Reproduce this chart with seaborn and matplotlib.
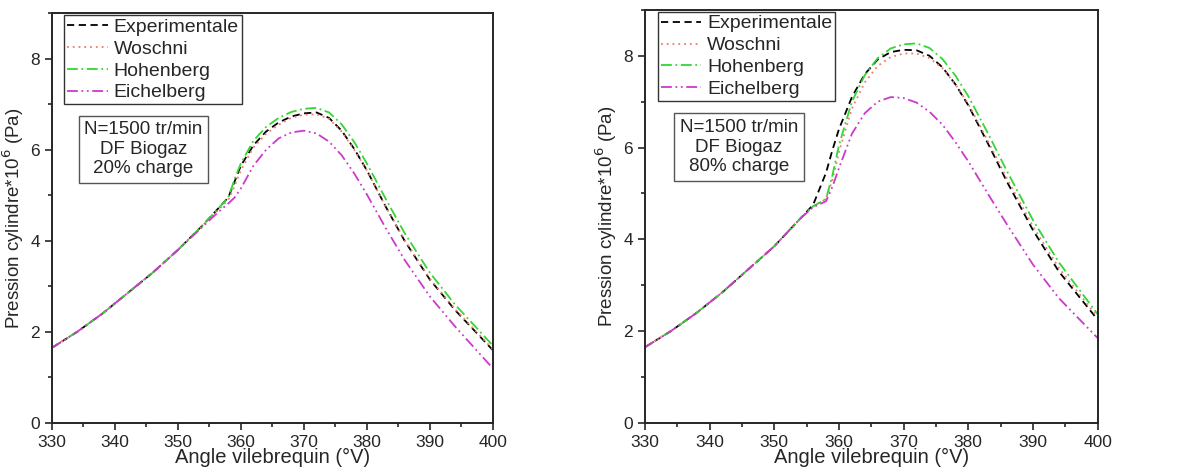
import numpy as np
import pandas as pd
import matplotlib
matplotlib.use("Agg")
import matplotlib.pyplot as plt
import seaborn as sns
from matplotlib.ticker import MultipleLocator

sns.set_style("ticks")
plt.rcParams["font.family"] = ["Liberation Sans", "DejaVu Sans"]

# crank angle (°V)
angle = [330, 334, 338, 342, 346, 350, 354, 356, 358, 359, 360, 362, 364, 366,
         368, 370, 372, 374, 376, 378, 380, 383, 386, 390, 394, 400]

# 20% charge
exp_20 = [1.65, 2.0, 2.4, 2.85, 3.3, 3.8, 4.35, 4.65, 4.95, 5.3, 5.65, 6.1, 6.4, 6.6,
          6.73, 6.8, 6.82, 6.7, 6.42, 6.02, 5.55, 4.75, 4.0, 3.15, 2.48, 1.6]
wos_20 = [1.65, 2.0, 2.4, 2.85, 3.3, 3.8, 4.35, 4.62, 4.9, 5.2, 5.55, 6.05, 6.35, 6.55,
          6.7, 6.77, 6.78, 6.68, 6.4, 6.0, 5.55, 4.75, 4.02, 3.17, 2.5, 1.62]
hoh_20 = [1.65, 2.0, 2.4, 2.85, 3.3, 3.8, 4.35, 4.65, 4.95, 5.35, 5.7, 6.2, 6.5, 6.7,
          6.83, 6.9, 6.92, 6.82, 6.56, 6.17, 5.7, 4.92, 4.17, 3.3, 2.6, 1.7]
eic_20 = [1.65, 2.0, 2.4, 2.85, 3.3, 3.8, 4.32, 4.58, 4.82, 4.95, 5.15, 5.65, 6.0, 6.25,
          6.38, 6.42, 6.36, 6.18, 5.88, 5.48, 5.02, 4.28, 3.58, 2.78, 2.12, 1.2]

# 80% charge
exp_80 = [1.65, 2.0, 2.4, 2.85, 3.35, 3.85, 4.45, 4.75, 5.45, 5.95, 6.4, 7.1, 7.6, 7.92,
          8.08, 8.13, 8.12, 8.0, 7.75, 7.38, 6.92, 6.1, 5.25, 4.2, 3.3, 2.25]
wos_80 = [1.65, 2.0, 2.4, 2.85, 3.35, 3.85, 4.45, 4.72, 4.88, 5.3, 5.9, 6.85, 7.42, 7.78,
          7.97, 8.05, 8.05, 7.95, 7.73, 7.38, 6.95, 6.15, 5.32, 4.28, 3.38, 2.3]
hoh_80 = [1.65, 2.0, 2.4, 2.85, 3.35, 3.85, 4.45, 4.72, 4.88, 5.4, 6.05, 7.0, 7.58, 7.95,
          8.16, 8.25, 8.27, 8.17, 7.93, 7.57, 7.12, 6.32, 5.48, 4.42, 3.5, 2.37]
eic_80 = [1.65, 2.0, 2.4, 2.85, 3.35, 3.85, 4.45, 4.7, 4.83, 5.15, 5.55, 6.3, 6.75, 7.0,
          7.1, 7.08, 6.98, 6.78, 6.5, 6.12, 5.7, 5.0, 4.32, 3.45, 2.72, 1.85]

models = ["Experimentale", "Woschni", "Hohenberg", "Eichelberg"]
colors = {"Experimentale": "#000000", "Woschni": "#EE7A70",
          "Hohenberg": "#33D633", "Eichelberg": "#CC3ACC"}
dashes = {"Experimentale": (4, 2.5), "Woschni": (1, 2.2),
          "Hohenberg": (6, 2, 1, 2), "Eichelberg": (6, 2, 1, 2, 1, 2)}

panels = [
    ("20% charge", [exp_20, wos_20, hoh_20, eic_20]),
    ("80% charge", [exp_80, wos_80, hoh_80, eic_80]),
]

fig = plt.figure(figsize=(11.79, 4.71), dpi=100)
axes = [fig.add_axes([0.044, 0.102, 0.374, 0.870]),
        fig.add_axes([0.547, 0.102, 0.384, 0.877])]

for ax, (charge, series) in zip(axes, panels):
    df = pd.concat([pd.DataFrame({"angle": angle, "P": s, "model": m})
                    for m, s in zip(models, series)])
    sns.lineplot(data=df, x="angle", y="P", hue="model", style="model",
                 palette=colors, dashes=dashes, hue_order=models,
                 style_order=models, linewidth=1.3, ax=ax)
    ax.set_xlim(330, 400)
    ax.set_ylim(0, 9)
    ax.xaxis.set_major_locator(MultipleLocator(10))
    ax.xaxis.set_minor_locator(MultipleLocator(5))
    ax.yaxis.set_major_locator(MultipleLocator(2))
    ax.yaxis.set_minor_locator(MultipleLocator(1))
    ax.tick_params(which="both", direction="out", labelsize=12.5, width=1.2)
    ax.tick_params(which="major", length=5)
    ax.tick_params(which="minor", length=3)
    for sp in ax.spines.values():
        sp.set_linewidth(1.4)
    ax.set_xlabel("Angle vilebrequin (°V)", fontsize=14.5, labelpad=-1)
    ax.set_ylabel("Pression cylindre*10$^6$ (Pa)", fontsize=13.5, labelpad=3)
    h, l = ax.get_legend_handles_labels()
    leg = ax.legend(h, l, loc="upper left", bbox_to_anchor=(0.028, 0.995),
                    fontsize=14, frameon=True, fancybox=False, edgecolor="black",
                    handlelength=2.1, handletextpad=0.3, borderpad=0.15,
                    labelspacing=0.22, borderaxespad=0.0)
    leg.get_frame().set_linewidth(1.0)
    ax.text(0.208, 0.668, "N=1500 tr/min\nDF Biogaz\n" + charge, transform=ax.transAxes,
            ha="center", va="center", fontsize=13.5, linespacing=1.2,
            bbox=dict(boxstyle="square,pad=0.3", fc="white", ec="#555555", lw=1.0))

fig.savefig("out.png", dpi=100)
